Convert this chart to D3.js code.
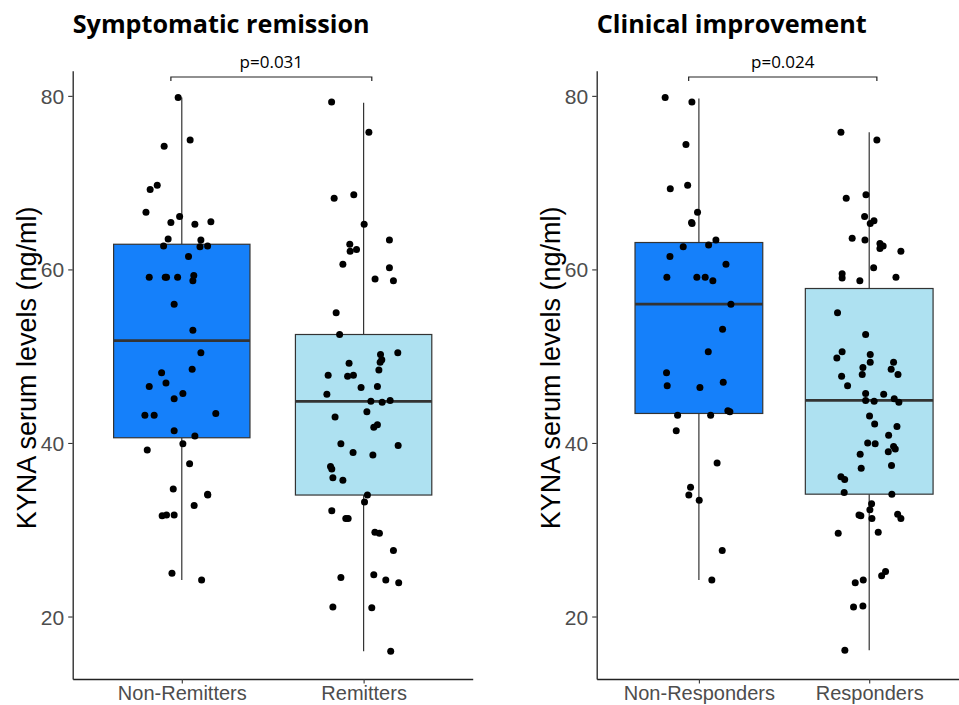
<!DOCTYPE html>
<html lang="en">
<head>
  <meta charset="UTF-8">
  <title>KYNA serum levels</title>
  <script src="https://cdn.jsdelivr.net/npm/d3@7"></script>
  <style>
    body { margin: 0; background: #fff; }
    svg { display: block; }
  </style>
</head>
<body>
  <svg width="959" height="705"></svg>

  <script>
    // categories
    const groupsRemission = ['Non-Remitters', 'Remitters']
    const groupsImprovement = ['Non-Responders', 'Responders']
    const titles = ['Symptomatic remission', 'Clinical improvement']
    const pValues = ['p=0.031', 'p=0.024']
    const yTicks = [20, 40, 60, 80]
    const yLabel = 'KYNA serum levels (ng/ml)'

    // box stats: [lower whisker, q1, median, q3, upper whisker]
    const boxNonRemitters = [24.2, 40.6, 51.8, 62.9, 79.8]
    const boxRemitters = [16.0, 34.0, 44.8, 52.5, 79.2]
    const boxNonResponders = [24.2, 43.4, 56.0, 63.1, 79.7]
    const boxResponders = [16.1, 34.1, 44.9, 57.8, 75.8]

    // individual points (ng/ml) and their jitter (fraction of category step)
    const nonRemitters = [79.8, 74.9, 74.2, 69.7, 69.2, 66.6, 66.1, 65.4, 65.2, 65.5,
      63.5, 63.4, 62.7, 62.6, 62.7, 61.5, 59.1, 59.1, 59.1, 59.1,
      59.3, 58.7, 56.0, 53.0, 50.4, 48.1, 48.5, 46.5, 46.9, 45.7,
      45.1, 43.2, 43.2, 43.4, 41.4, 40.8, 39.9, 39.2, 37.6, 34.7,
      34.1, 34.0, 32.8, 31.6, 31.7, 31.7, 25.0, 24.2]
    const nonRemittersJitter = [-0.02, 0.046, -0.097, -0.135, -0.174, -0.197, -0.012, -0.06, 0.072, 0.16,
      -0.075, 0.105, -0.1, 0.1, 0.142, 0.037, -0.179, -0.091, -0.084, -0.023,
      0.066, 0.061, -0.042, 0.061, 0.105, -0.111, 0.057, -0.179, -0.087, 0.006,
      -0.042, -0.203, -0.152, 0.187, -0.042, 0.072, 0.006, -0.19, 0.043, -0.047,
      0.142, 0.143, 0.068, -0.108, -0.084, -0.042, -0.054, 0.109]

    const remitters = [79.3, 75.8, 68.2, 68.6, 65.2, 63.4, 62.9, 62.1, 62.3, 60.6,
      60.2, 58.9, 58.7, 55.0, 52.5, 50.4, 50.2, 49.6, 49.3, 49.2,
      48.4, 47.8, 47.7, 47.8,
      46.4, 46.5, 45.6, 44.8, 44.7, 44.9, 43.6, 43.0, 42.1, 41.8,
      39.9, 39.7, 38.9, 38.6, 37.3, 37.0, 36.0, 35.7, 34.0, 33.2,
      32.2, 31.3, 31.3, 29.7, 29.6, 27.6, 24.5, 24.8, 24.2, 23.9,
      21.1, 21.0, 16.0]
    const remittersJitter = [-0.176, 0.029, -0.162, -0.054, 0.003, 0.142, -0.076, -0.074, -0.039, -0.114,
      0.142, 0.063, 0.164, -0.151, -0.132, 0.188, 0.093, 0.1, 0.091, -0.08,
      0.084, -0.195, -0.088, -0.056,
      -0.014, 0.076, -0.202, 0.04, 0.102, 0.146, 0.018, -0.157, 0.076, 0.056,
      -0.125, 0.19, -0.058, 0.051, -0.182, -0.175, -0.169, -0.114, 0.021, 0.005,
      -0.175, -0.098, -0.085, 0.062, 0.087, 0.164, -0.125, 0.056, 0.122, 0.193,
      -0.169, 0.045, 0.149]

    const nonResponders = [79.8, 79.3, 74.4, 69.3, 69.7, 66.6, 65.4, 65.3, 63.4, 62.6,
      62.8, 61.5, 60.6, 59.1, 59.1, 59.1, 58.7, 56.0, 53.1, 50.5,
      48.1, 46.6, 46.4, 47.0, 43.2, 43.2, 43.7, 43.6, 41.4, 37.7,
      34.9, 34.0, 33.4, 27.6, 24.2]
    const nonRespondersJitter = [-0.198, -0.041, -0.076, -0.168, -0.066, -0.008, -0.043, -0.04, 0.1, -0.092,
      0.057, -0.17, 0.159, -0.188, -0.012, 0.037, 0.082, 0.188, 0.139, 0.055,
      -0.19, -0.186, 0.006, 0.143, -0.125, 0.069, 0.17, 0.182, -0.133, 0.107,
      -0.049, -0.059, 0.002, 0.137, 0.076]

    const responders = [75.8, 74.9, 68.2, 68.6, 66.1, 65.6, 65.3, 63.6, 63.4, 63.0,
      62.7, 62.4, 62.1, 60.2, 59.5, 59.0, 58.7, 59.1, 55.0, 52.5,
      50.5, 49.8, 50.2, 49.3, 48.7, 49.3, 48.5, 47.9, 47.7, 47.9,
      46.6, 45.7, 45.6, 44.9, 44.8, 45.1, 44.7, 43.1, 42.2, 41.9,
      40.9, 40.0, 39.9, 39.6, 39.3, 39.0, 38.7, 37.1, 37.4, 36.1,
      35.8, 34.3, 34.1, 33.0, 32.3, 31.7, 31.6, 31.3, 31.8, 31.3,
      29.6, 29.7, 24.7, 25.2, 23.9, 24.2, 21.1, 21.2, 16.1]
    const respondersJitter = [-0.166, 0.045, -0.135, -0.019, -0.027, 0.028, 0.006, -0.1, -0.025, 0.063,
      0.082, 0.063, 0.186, 0.026, -0.159, -0.159, -0.055, 0.157, -0.186, -0.021,
      -0.159, -0.19, 0.006, 0.006, -0.037, 0.143, 0.129, 0.169, -0.162, -0.041,
      -0.127, -0.021, 0.085, -0.021, 0.029, 0.147, 0.174, 0.002, 0.032, 0.163,
      0.114, -0.009, 0.035, 0.143, 0.153, 0.112, -0.053, -0.047, 0.131, -0.166,
      -0.144, -0.147, 0.133, 0.014, 0.004, -0.06, -0.049, 0.016, 0.167, 0.186,
      -0.182, 0.053, 0.073, 0.096, -0.082, -0.035, -0.092, -0.037, -0.143]

    const fills = ['#1580FA', '#AEE1F1']

    const panels = [
      {
        left: 72.7, right: 472.7, title: titles[0], titleWidth: 297, pText: pValues[0],
        groups: groupsRemission,
        boxes: [boxNonRemitters, boxRemitters],
        points: [[nonRemitters, nonRemittersJitter], [remitters, remittersJitter]]
      },
      {
        left: 596.7, right: 971.4, title: titles[1], titleWidth: 270, pText: pValues[1],
        groups: groupsImprovement,
        boxes: [boxNonResponders, boxResponders],
        points: [[nonResponders, nonRespondersJitter], [responders, respondersJitter]]
      }
    ]

    const plotTop = 70.7
    const plotBottom = 679
    const svg = d3.select('svg')

    const y = d3.scaleLinear()
      .domain([12.8, 82.9])
      .range([plotBottom, plotTop])

    panels.forEach(p => {
      const x = d3.scalePoint()
        .domain(p.groups)
        .range([p.left, p.right])
        .padding(0.6)
      const step = x.step()
      const boxW = step * 0.75

      const g = svg.append('g')

      // boxes
      p.groups.forEach((name, i) => {
        const [lo, q1, med, q3, hi] = p.boxes[i]
        const cx = x(name)
        g.append('line')
          .attr('x1', cx).attr('x2', cx)
          .attr('y1', y(hi)).attr('y2', y(q3))
          .attr('stroke', '#333').attr('stroke-width', 1.2)
        g.append('line')
          .attr('x1', cx).attr('x2', cx)
          .attr('y1', y(q1)).attr('y2', y(lo))
          .attr('stroke', '#333').attr('stroke-width', 1.2)
        g.append('rect')
          .attr('x', cx - boxW / 2)
          .attr('y', y(q3))
          .attr('width', boxW)
          .attr('height', y(q1) - y(q3))
          .attr('fill', fills[i])
          .attr('stroke', '#333')
          .attr('stroke-width', 1.2)
        g.append('line')
          .attr('x1', cx - boxW / 2).attr('x2', cx + boxW / 2)
          .attr('y1', y(med)).attr('y2', y(med))
          .attr('stroke', '#333').attr('stroke-width', 2.8)
      })

      // jittered points
      p.groups.forEach((name, i) => {
        const [vals, jit] = p.points[i]
        g.selectAll(null)
          .data(vals)
          .enter()
          .append('circle')
          .attr('cx', (d, k) => x(name) + jit[k] * step)
          .attr('cy', d => y(d))
          .attr('r', 3.5)
          .attr('fill', '#000')
      })

      // axes
      const yAxis = g.append('g')
        .attr('transform', `translate(${p.left},0)`)
        .call(d3.axisLeft(y).tickValues(yTicks).tickSize(4.5).tickSizeOuter(0).tickPadding(4))
      const xAxis = g.append('g')
        .attr('transform', `translate(0,${plotBottom})`)
        .call(d3.axisBottom(x).tickSize(4.5).tickSizeOuter(0).tickPadding(2))

      ;[yAxis, xAxis].forEach(a => {
        a.select('.domain').attr('stroke', '#222').attr('stroke-width', 1.3)
        a.selectAll('.tick line').attr('stroke', '#333').attr('stroke-width', 1.1)
        a.selectAll('.tick text')
          .attr('fill', '#4D4D4D')
          .style('font-family', '"Liberation Sans", Arial, sans-serif')
          .style('font-size', '21px')
      })
      yAxis.selectAll('.tick text').attr('dy', '0.36em')
      xAxis.selectAll('.tick text')
        .style('font-size', '20px')
        .attr('dy', '0.7em')

      // y axis label
      svg.append('text')
        .attr('transform', `translate(${p.left - 37},${(plotTop + plotBottom) / 2 - 7}) rotate(-90)`)
        .attr('text-anchor', 'middle')
        .style('font-family', '"Liberation Sans", Arial, sans-serif')
        .style('font-size', '27px')
        .attr('fill', '#000')
        .text(yLabel)

      // title
      svg.append('text')
        .attr('x', p.left)
        .attr('y', 33)
        .attr('textLength', p.titleWidth)
        .attr('lengthAdjust', 'spacingAndGlyphs')
        .style('font-family', '"Open Sans", sans-serif')
        .style('font-weight', 700)
        .style('font-size', '25px')
        .text(p.title)

      // significance bracket
      const bx1 = x(p.groups[0]) - 0.06 * step
      const bx2 = x(p.groups[1]) + 0.045 * step
      g.append('path')
        .attr('d', `M${bx1},81 V77 H${bx2} V81`)
        .attr('fill', 'none')
        .attr('stroke', '#222')
        .attr('stroke-width', 1.2)
      svg.append('text')
        .attr('x', (bx1 + bx2) / 2)
        .attr('y', 68)
        .attr('text-anchor', 'middle')
        .style('font-family', '"Open Sans", sans-serif')
        .style('font-size', '17px')
        .text(p.pText)
    })
  </script>
</body>
</html>
